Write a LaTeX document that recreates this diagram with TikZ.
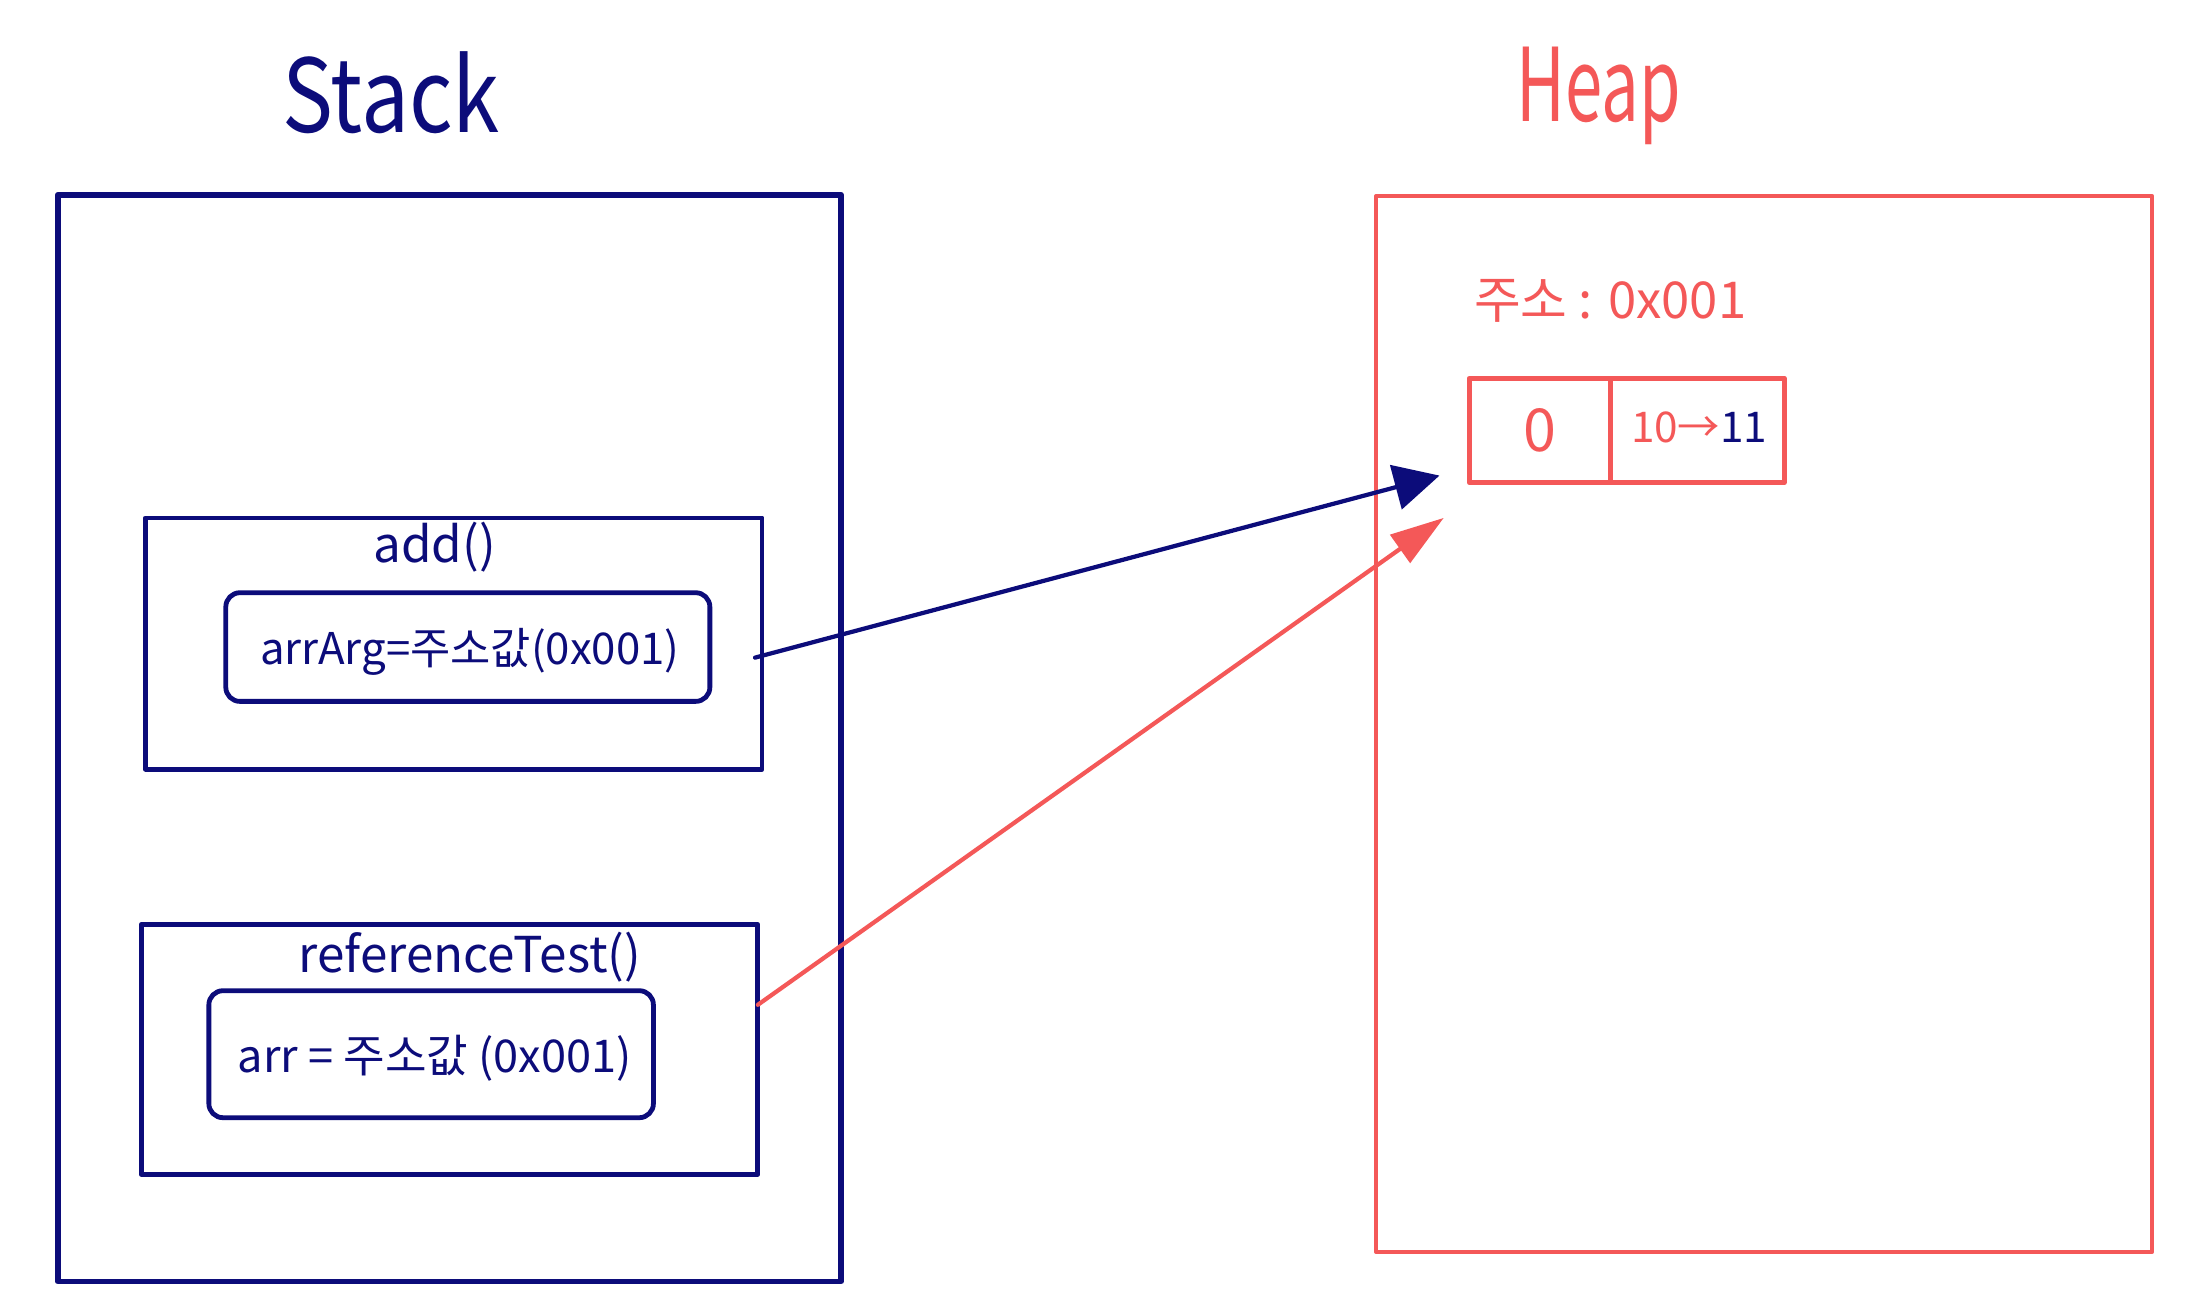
\documentclass[tikz,border=0pt]{standalone}
\usepackage{fontspec}
\setmainfont{Noto Sans CJK KR}
\usetikzlibrary{arrows.meta}
\definecolor{navyink}{RGB}{12,12,122}
\definecolor{redink}{RGB}{244,88,88}
\begin{document}
\begin{tikzpicture}[x=0.5pt,y=-0.5pt,
  framebox/.style={draw, inner sep=0pt, outer sep=0pt, line join=round},
  stackbox/.style={framebox, navyink, line width=2pt},
  heapbox/.style={framebox, redink, line width=1.5pt},
  methodbox/.style={framebox, navyink, line width=1.7pt},
  varbox/.style={framebox, navyink, line width=1.7pt, rounded corners=5pt},
  cellbox/.style={framebox, redink, line width=1.7pt},
  title/.style={font=\fontsize{36}{40}\selectfont},
  label/.style={navyink, font=\fontsize{17.5}{20}\selectfont},
  vartext/.style={navyink, font=\fontsize{15.5}{18}\selectfont},
  ptr/.style={line width=1.5pt, line cap=round}
]
\useasboundingbox (0,0) rectangle (1566,929);
\fill[white] (0,0) rectangle (1566,929);

% titles
\node[title, navyink] (stacktitle) at (277,66) {\scalebox{0.84}[1]{Stack}};
\node[title, redink] (heaptitle) at (1133,68) {\scalebox{0.66}[1]{Heap}};

% stack
\node[stackbox, minimum width=277.5pt, minimum height=385pt] (stack) at (318.5,523) {};
\node[methodbox, minimum width=218.5pt, minimum height=89pt] (addbox) at (321.5,456) {};
\node[label] (addlabel) at (308,388) {add()};
\node[varbox, minimum width=171.5pt, minimum height=38.5pt] (arrarg) at (331.5,458.5) {};
\node[vartext] (arrargtext) at (333,462) {arrArg=주소값(0x001)};

\node[methodbox, minimum width=218.5pt, minimum height=88.5pt] (refbox) at (318.5,743.5) {};
\node[label] (reflabel) at (333,678) {referenceTest()};
\node[varbox, minimum width=157.5pt, minimum height=45pt] (arr) at (305.5,747) {};
\node[vartext, font=\fontsize{16}{18}\selectfont] (arrtext) at (308,750) {arr = 주소값 (0x001)};

% heap
\node[heapbox, minimum width=275pt, minimum height=374pt] (heap) at (1250,513) {};
\node[redink, font=\fontsize{18}{22}\selectfont] (addr) at (1141,213) {주소 : 0x001};
\node[cellbox, minimum width=50pt, minimum height=37pt] (cell0) at (1091,305) {};
\node[cellbox, minimum width=61.5pt, minimum height=37pt] (cell1) at (1202.75,305) {};
\node[redink, font=\fontsize{21}{24}\selectfont] (v0) at (cell0.center) {0};
\node[font=\fontsize{15}{18}\selectfont] (v1) at (1204,303) {\textcolor{redink}{10→}\textcolor{navyink}{11}};

% pointers
\coordinate (srcA) at (535,466);
\coordinate (tipA) at (1020,337);
\coordinate (srcB) at (537,712);
\coordinate (tipB) at (1023,367);
\draw[ptr, navyink, -{Triangle[length=16pt,width=16pt]}] (srcA) -- (tipA);
\draw[ptr, redink, -{Triangle[length=19pt,width=12pt]}] (srcB) -- (tipB);
\end{tikzpicture}
\end{document}
